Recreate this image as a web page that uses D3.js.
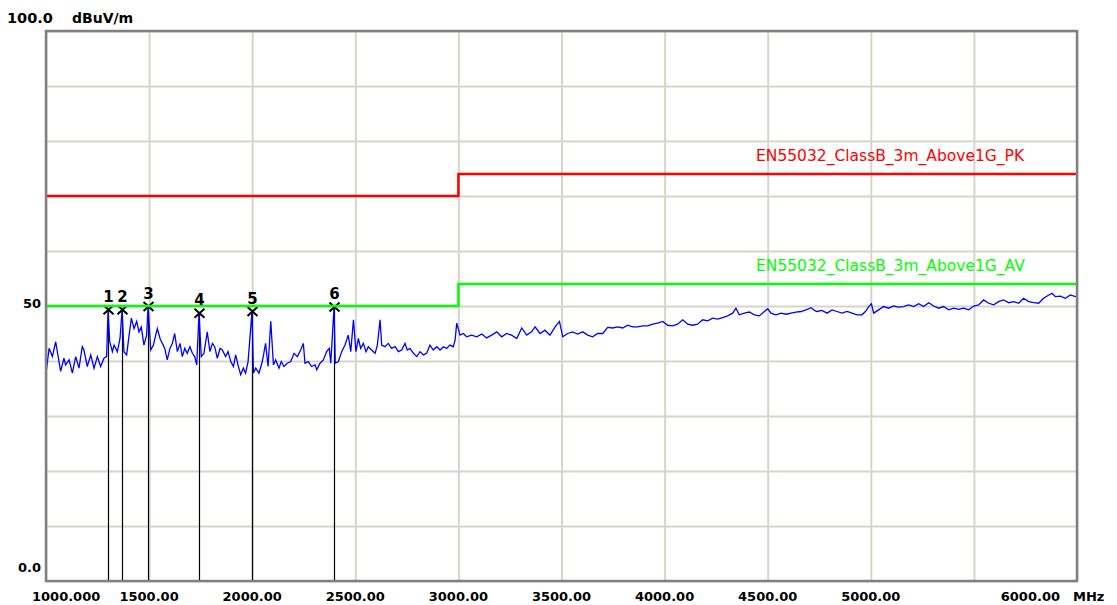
<!DOCTYPE html>
<html>
<head>
<meta charset="utf-8">
<script src="https://cdn.jsdelivr.net/npm/d3@7"></script>
<style>
  body { margin: 0; background: #fff; }
  text { font-family: "DejaVu Sans", sans-serif; }
  .tick-label { font-size: 13px; font-weight: bold; fill: #000; }
  .limit-label { font-size: 15.5px; }
</style>
</head>
<body>
<div id="chart"></div>
<script>
// scan trace (MHz / dBuV/m)
let traceMHz = [1000,1015,1031,1047,1055,1071,1087,1095,1112,1128,1144,1160,1176,1184,1200,1217,1233,1249,1265,1281,1294,1301,1309,1322,1330,1346,1359,1369,1378,1391,1403,1414,1427,1440,1451,1462,1475,1488,1495,1508,1521,1532,1540,1553,1564,1576,1588,1601,1613,1624,1637,1650,1661,1673,1685,1698,1710,1721,1731,1742,1753,1766,1782,1795,1807,1818,1831,1844,1855,1871,1883,1896,1909,1920,1931,1944,1957,1968,1980,1999,2006,2017,2033,2049,2065,2077,2090,2103,2114,2130,2141,2154,2170,2187,2203,2219,2235,2248,2256,2272,2288,2305,2313,2329,2345,2361,2374,2381,2397,2403,2418,2434,2450,2466,2478,2491,2503,2515,2526,2539,2552,2563,2579,2596,2607,2620,2628,2644,2660,2676,2693,2709,2725,2741,2752,2765,2782,2798,2814,2830,2846,2862,2878,2895,2911,2927,2943,2959,2975,2984,2992,3008,3024,3040,3064,3089,3113,3137,3161,3186,3210,3234,3258,3283,3307,3331,3355,3372,3396,3420,3444,3469,3490,3506,3530,3554,3578,3603,3627,3651,3675,3700,3724,3748,3772,3797,3821,3845,3869,3894,3918,3942,3966,3991,4015,4039,4063,4088,4112,4136,4160,4185,4209,4233,4257,4282,4306,4330,4346,4362,4387,4411,4435,4459,4484,4500,4516,4540,4565,4589,4613,4637,4662,4686,4710,4731,4739,4763,4788,4812,4836,4860,4885,4909,4933,4957,4974,4990,5003,5014,5038,5062,5087,5111,5135,5159,5184,5208,5232,5256,5281,5305,5329,5353,5378,5402,5426,5450,5475,5499,5523,5547,5572,5596,5620,5644,5669,5693,5717,5741,5766,5790,5814,5838,5863,5879,5895,5919,5943,5968,5992,6000];
let traceDb = [37.8,42.3,40.8,43.5,41.7,38.1,40.5,39.3,40.2,37.8,40.8,38.7,42.6,42.0,39.0,41.1,38.7,40.8,39.0,40.5,40.8,49.3,43.5,41.7,42.9,41.7,44.1,49.3,41.7,41.1,44.7,47.8,45.9,47.2,45.3,46.2,42.9,44.7,49.9,42.0,42.9,44.7,45.9,44.1,43.2,42.3,40.2,42.3,43.2,45.0,41.7,43.2,40.8,42.3,41.4,42.6,41.4,40.8,39.3,48.7,40.8,41.4,45.3,41.7,43.2,42.6,40.5,42.3,42.0,40.8,41.7,39.9,39.0,41.1,39.3,37.5,38.7,37.8,39.9,49.0,37.8,38.7,37.8,39.9,43.2,39.0,47.2,39.3,40.2,38.7,39.9,39.0,39.6,39.9,41.4,40.8,42.0,43.2,39.6,39.9,39.0,39.3,38.4,39.6,40.2,41.7,42.3,39.6,49.8,39.6,39.9,41.7,42.9,44.7,41.7,47.5,41.7,44.1,42.3,43.2,41.7,42.6,42.0,41.4,42.9,47.5,42.9,42.6,43.2,42.3,42.6,41.7,42.0,43.2,42.0,42.3,41.4,40.8,41.7,41.1,41.4,42.9,42.0,42.6,42.0,42.6,42.3,42.9,42.6,43.8,46.9,44.7,45.0,44.4,44.7,44.4,44.9,44.2,44.7,45.3,44.4,45.0,44.7,44.1,46.0,44.7,45.3,46.2,45.0,45.6,44.7,46.2,47.2,44.4,45.0,45.3,44.9,45.3,44.7,44.4,45.0,45.0,46.1,46.0,46.2,46.0,46.5,46.2,46.2,46.4,46.4,46.7,46.9,47.2,46.5,46.4,46.7,47.5,46.7,46.5,46.7,47.5,47.3,47.8,47.6,47.9,48.2,48.7,49.6,48.4,48.7,48.9,48.4,48.2,49.0,49.5,48.7,48.4,48.7,48.5,48.7,48.9,49.0,49.3,49.7,49.1,49.0,49.2,48.7,49.3,49.0,48.7,49.0,48.7,48.4,48.4,49.0,49.9,50.4,48.7,49.3,49.9,49.6,50.0,49.8,49.9,50.2,49.9,50.4,49.9,50.6,50.0,49.6,49.9,49.3,49.6,49.4,49.6,49.3,50.0,50.2,51.1,50.5,50.2,50.8,51.1,50.6,50.8,50.5,51.4,50.8,50.6,50.5,51.4,52.0,52.3,51.7,51.8,51.4,52.0,51.7,51.8];

// limit lines EN55032 class B 3m above 1 GHz
let limitMHz = [1000, 3000, 3000, 6000];
let pkLimit = [70, 70, 74, 74];
let avLimit = [50, 50, 54, 54];
let pkName = "EN55032_ClassB_3m_Above1G_PK";
let avName = "EN55032_ClassB_3m_Above1G_AV";

// markers
let markerId = ["1", "2", "3", "4", "5", "6"];
let markerMHz = [1301, 1369, 1495, 1742, 1999, 2397];
let markerDb = [49.3, 49.3, 49.9, 48.7, 49.0, 49.8];

// axes
let xGrid = [1000,1500,2000,2500,3000,3500,4000,4500,5000,5500,6000];
let xLabels = ["1000.000","1500.00","2000.00","2500.00","3000.00","3500.00","4000.00","4500.00","5000.00",null,"6000.00"];
let yGrid = [0,10,20,30,40,50,60,70,80,90,100];

let W = 1117, H = 605;
let pL = 46, pT = 31, pR = 1077, pB = 581;

let svg = d3.select("#chart")
    .append("svg")
    .attr("width", W)
    .attr("height", H);

let x = d3.scaleLinear().domain([1000, 6000]).range([pL, pR]);
let y = d3.scaleLinear().domain([0, 100]).range([pB, pT]);

// grid
svg.append("g")
    .attr("transform", `translate(0,${pB})`)
    .call(d3.axisBottom(x).tickValues(xGrid).tickSize(-(pB - pT)).tickFormat(""))
    .call(g => g.select(".domain").remove())
    .selectAll("line")
    .attr("stroke", "#d8d4cc")
    .attr("stroke-width", 2);

svg.append("g")
    .attr("transform", `translate(${pL},0)`)
    .call(d3.axisLeft(y).tickValues(yGrid).tickSize(-(pR - pL)).tickFormat(""))
    .call(g => g.select(".domain").remove())
    .selectAll("line")
    .attr("stroke", "#d8d4cc")
    .attr("stroke-width", 2);

// marker drop lines
markerMHz.forEach((f, i) =>
    svg.append("line")
    .attr("x1", Math.round(x(f)) + 0.5)
    .attr("x2", Math.round(x(f)) + 0.5)
    .attr("y1", y(markerDb[i]))
    .attr("y2", pB)
    .attr("stroke", "#000")
    .attr("stroke-width", 1.2)
);

// trace
let line = d3.line()
    .x((d, i) => x(traceMHz[i]))
    .y(d => y(d));

svg.append("path")
    .datum(traceDb)
    .attr("d", line)
    .attr("fill", "none")
    .attr("stroke", "#0000ff")
    .attr("stroke-width", 1.3);

// marker crosses
markerMHz.forEach((f, i) =>
    svg.append("path")
    .attr("transform", `translate(${Math.round(x(f)) + 0.5},${y(markerDb[i])})`)
    .attr("d", "M-5,-4.5L5,4.5M-5,4.5L5,-4.5")
    .attr("stroke", "#000")
    .attr("stroke-width", 2)
);

// limit lines
let limLine = d3.line()
    .x((d, i) => x(limitMHz[i]))
    .y(d => y(d));

svg.append("path")
    .datum(pkLimit)
    .attr("d", limLine)
    .attr("fill", "none")
    .attr("stroke", "#ff0000")
    .attr("stroke-width", 2.5);

svg.append("path")
    .datum(avLimit)
    .attr("d", limLine)
    .attr("fill", "none")
    .attr("stroke", "#00ff00")
    .attr("stroke-width", 2.5);

svg.append("text")
    .attr("class", "limit-label")
    .attr("x", 756)
    .attr("y", y(pkLimit[3]) - 13)
    .attr("fill", "#ff0000")
    .text(pkName);

svg.append("text")
    .attr("class", "limit-label")
    .attr("x", 756)
    .attr("y", y(avLimit[3]) - 13)
    .attr("fill", "#00ff00")
    .text(avName);

// marker numbers
markerMHz.forEach((f, i) =>
    svg.append("text")
    .attr("class", "tick-label")
    .attr("x", Math.round(x(f)) + 0.5)
    .attr("y", y(markerDb[i]) - 8)
    .attr("text-anchor", "middle")
    .style("font-size", "15px")
    .text(markerId[i])
);

// frame
svg.append("rect")
    .attr("x", pL)
    .attr("y", pT)
    .attr("width", pR - pL)
    .attr("height", pB - pT)
    .attr("fill", "none")
    .attr("stroke", "#808080")
    .attr("stroke-width", 2.5);

// y labels
svg.append("text").attr("class", "tick-label").style("font-size", "14.5px")
    .attr("x", 7).attr("y", y(100) - 8).text("100.0");
svg.append("text").attr("class", "tick-label").style("font-size", "14px")
    .attr("x", 72).attr("y", y(100) - 8).text("dBuV/m");
svg.append("text").attr("class", "tick-label")
    .attr("x", 41).attr("y", y(50) + 2).attr("text-anchor", "end").text("50");
svg.append("text").attr("class", "tick-label")
    .attr("x", 41).attr("y", y(0) - 9).attr("text-anchor", "end").text("0.0");

// x labels
xGrid.forEach((f, i) => {
    if (!xLabels[i]) return;
    let t = svg.append("text")
        .attr("class", "tick-label")
        .attr("y", pB + 20)
        .text(xLabels[i]);
    if (i == 0) t.attr("x", x(f) - 14);
    else if (i == xGrid.length - 1) t.attr("x", x(f) - 17).attr("text-anchor", "end");
    else t.attr("x", x(f)).attr("text-anchor", "middle");
});

svg.append("text")
    .attr("class", "tick-label")
    .attr("x", pR - 4)
    .attr("y", pB + 20)
    .text("MHz");
</script>
</body>
</html>
